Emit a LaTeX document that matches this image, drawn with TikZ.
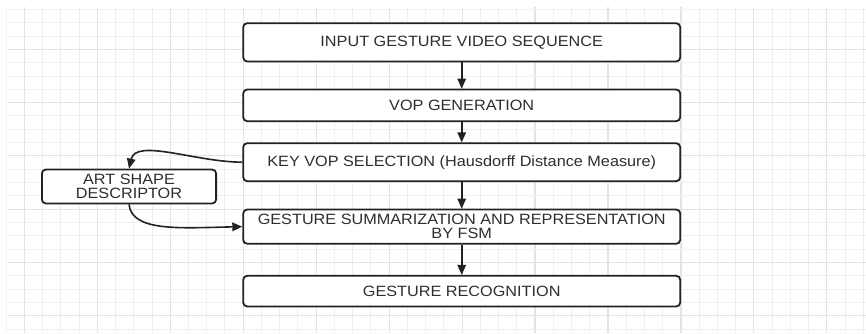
\documentclass[tikz,border=0pt]{standalone}
\usepackage{fontspec}
\setmainfont[FakeStretch=1.09]{Liberation Sans}
\usetikzlibrary{arrows.meta}
\definecolor{edgecol}{HTML}{222222}
\definecolor{txtcol}{HTML}{2E2E2E}
\definecolor{gridminor}{HTML}{F0F0F0}
\definecolor{gridmajor}{HTML}{E3E3E3}
\begin{document}
\begin{tikzpicture}[x=1pt,y=-1pt,
  flowbox/.style={draw=edgecol, line width=1.8pt, rounded corners=4pt, fill=white,
    text=txtcol, inner sep=0pt, align=center,
    font=\fontsize{14.9}{14.4}\selectfont},
  conn/.style={draw=edgecol, line width=1.6pt, -{Triangle[length=10pt,width=8.5pt]}},
  minorline/.style={draw=gridminor, line width=0.9pt},
  majorline/.style={draw=gridmajor, line width=1.1pt}]
\fill[white] (0,0) rectangle (866,333);
\useasboundingbox (0,0) rectangle (866,333);
% grid
\foreach \k in {0,...,47} {
  \pgfmathsetmacro{\gx}{6.06+18.24*\k}
  \pgfmathtruncatemacro{\gm}{mod(\k,4)}
  \ifnum\gm=1
    \draw[majorline] (\gx,7) -- (\gx,333);
  \else
    \draw[minorline] (\gx,7) -- (\gx,333);
  \fi
}
\foreach \k in {0,...,24} {
  \pgfmathsetmacro{\gy}{9.3+13.33*\k}
  \pgfmathtruncatemacro{\gm}{mod(\k,4)}
  \ifnum\gm=3
    \draw[majorline] (8,\gy) -- (866,\gy);
  \else
    \draw[minorline] (8,\gy) -- (866,\gy);
  \fi
}
% boxes
\node[flowbox, minimum width=437pt, minimum height=38.3pt] (b1) at (461.7,42.35) {INPUT GESTURE VIDEO SEQUENCE};
\node[flowbox, minimum width=437pt, minimum height=31.7pt] (b2) at (461.7,105.35) {VOP GENERATION};
\node[flowbox, minimum width=437pt, minimum height=38pt] (b3) at (461.7,162.2) {KEY VOP SELECTION (Hausdorff Distance Measure)};
\node[flowbox, minimum width=437pt, minimum height=34.3pt] (b4) at (461.7,226.65) {GESTURE SUMMARIZATION AND REPRESENTATION\\BY FSM};
\node[flowbox, minimum width=437pt, minimum height=30.7pt] (b5) at (461.7,291.15) {GESTURE RECOGNITION};
\node[flowbox, minimum width=174.2pt, minimum height=34pt] (art) at (129,186.5) {ART SHAPE\\DESCRIPTOR};
% connectors
\draw[conn] (b1.south) -- (b2.north);
\draw[conn] (b2.south) -- (b3.north);
\draw[conn] (b3.south) -- (b4.north);
\draw[conn] (b4.south) -- (b5.north);
\draw[conn] (b3.west) .. controls (195,162) and (136,138) .. (art.north);
\draw[conn] (art.south) .. controls (132,232) and (180,228) .. (b4.west);
\end{tikzpicture}
\end{document}
